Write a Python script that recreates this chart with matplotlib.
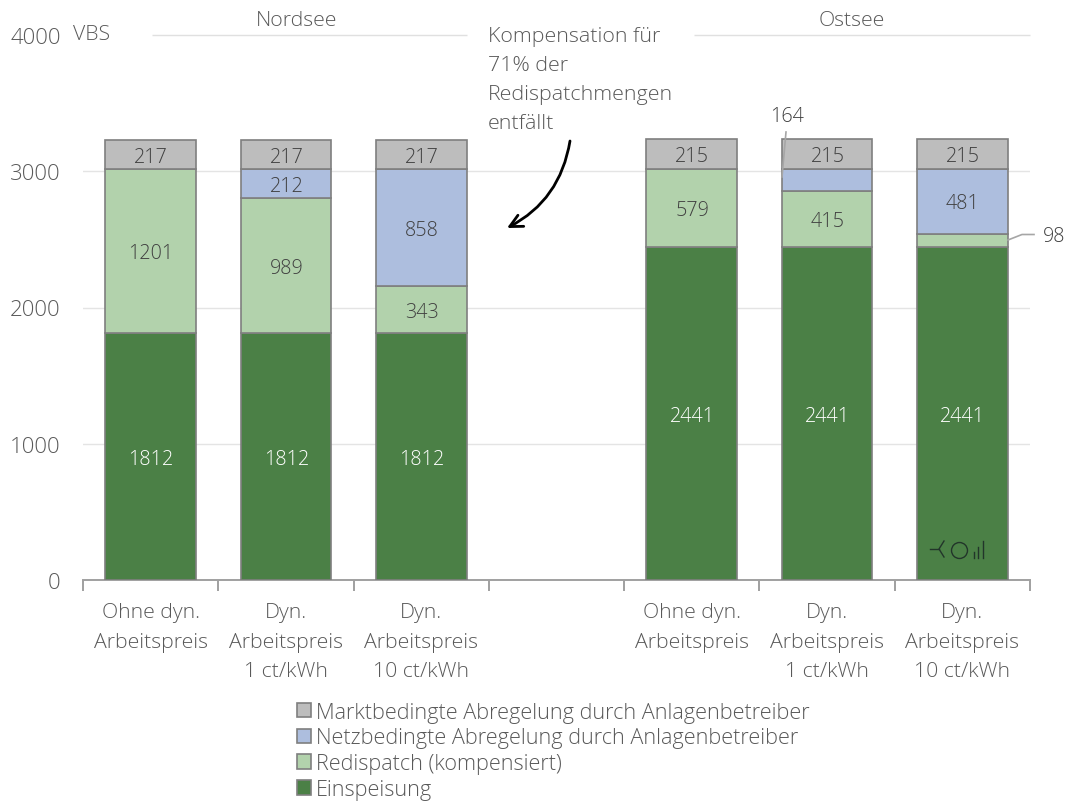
import matplotlib
matplotlib.use("Agg")
import matplotlib.pyplot as plt
from matplotlib.lines import Line2D
from matplotlib.patches import Patch

plt.rcParams['font.family'] = ['Open Sans', 'DejaVu Sans']
plt.rcParams['font.weight'] = 'light'

# Werte je Szenario, die leere Kategorie trennt Nordsee und Ostsee
kategorien = ["Ohne dyn.\nArbeitspreis", "Dyn.\nArbeitspreis\n1 ct/kWh", "Dyn.\nArbeitspreis\n10 ct/kWh", "",
              "Ohne dyn.\nArbeitspreis", "Dyn.\nArbeitspreis\n1 ct/kWh", "Dyn.\nArbeitspreis\n10 ct/kWh"]
einspeisung = [1812, 1812, 1812, 0, 2441, 2441, 2441]
redispatch = [1201, 989, 343, 0, 579, 415, 98]
netzbedingt = [0, 212, 858, 0, 0, 164, 481]
marktbedingt = [217, 217, 217, 0, 215, 215, 215]

namen = ["Einspeisung", "Redispatch (kompensiert)",
         "Netzbedingte Abregelung durch Anlagenbetreiber",
         "Marktbedingte Abregelung durch Anlagenbetreiber"]
farben = ["#4b8046", "#b2d2ac", "#adbede", "#bdbdbd"]
y_ticks = [0, 1000, 2000, 3000, 4000]

GRAU = "#595959"
TEXT_DUNKEL = "#404040"
RAND = "#7f7f7f"

W, H = 1071, 804
fig = plt.figure(figsize=(W / 100, H / 100), dpi=100)
ax = fig.add_axes([83 / W, 1 - 581 / H, (1030 - 83) / W, (581 - 36) / H])


def px(x, y):
    # Pixelposition in Figure-Koordinaten
    return x / W, 1 - y / H


x = list(range(len(kategorien)))
boden = [0] * len(x)
for name, werte, farbe in zip(namen, [einspeisung, redispatch, netzbedingt, marktbedingt], farben):
    for i, w in enumerate(werte):
        if w == 0:
            continue
        ax.bar(i, w, 0.67, bottom=boden[i], color=farbe, edgecolor=RAND, linewidth=1.2, zorder=3)
        # kleine Segmente werden extern beschriftet
        if w in (98, 164):
            continue
        color = "white" if farbe == farben[0] else TEXT_DUNKEL
        ax.annotate(str(w), (i, boden[i] + w / 2), xytext=(0.4, -1.5), textcoords="offset points",
                    ha="center", va="center", fontsize=14.2, color=color, zorder=4)
    boden = [b + w for b, w in zip(boden, werte)]

ax.set_xlim(-0.5, 6.5)
ax.set_ylim(0, 4000)
ax.set_yticks(y_ticks)
ax.set_xticks(x)
ax.set_xticklabels(kategorien, fontsize=15.3, color=GRAU, linespacing=1.62)
ax.set_xticks([i - 0.5 for i in range(8)], minor=True)
ax.tick_params(axis="x", which="major", length=0, pad=16)
ax.tick_params(axis="x", which="minor", length=8, width=1.4, color="#a0a0a0")
ax.tick_params(axis="y", length=0, pad=16, labelsize=16, labelcolor=GRAU)

for s in ["top", "right", "left"]:
    ax.spines[s].set_visible(False)
ax.spines["bottom"].set_color("#a0a0a0")
ax.spines["bottom"].set_linewidth(1.4)

for y in y_ticks[1:-1]:
    ax.axhline(y, color="#e4e4e4", linewidth=1, zorder=1)

# Kopflinien der beiden Regionen auf Hoehe von 4000
ax.hlines(4000, 0.01, 2.34, color="#e0e0e0", linewidth=1, clip_on=False)
ax.hlines(4000, 4.02, 6.5, color="#e0e0e0", linewidth=1, clip_on=False)

fig.text(*px(296.5, 21), "Nordsee", ha="center", va="center", fontsize=15.3, color=GRAU)
fig.text(*px(852, 21), "Ostsee", ha="center", va="center", fontsize=15.3, color=GRAU)
fig.text(*px(73, 35), "VBS", ha="left", va="center", fontsize=15.3, color=GRAU)

fig.text(*px(488, 80.5), "Kompensation für\n71% der\nRedispatchmengen\nentfällt", ha="left", va="center",
         fontsize=15.4, color=GRAU, linespacing=1.6)

# Pfeil vom Hinweistext zu den Balken
ax.annotate("", xy=px(507, 229), xytext=px(570, 142), xycoords="figure fraction",
            textcoords="figure fraction", zorder=5,
            arrowprops=dict(arrowstyle="->,head_length=0.9,head_width=0.45", color="black",
                            linewidth=2, connectionstyle="arc3,rad=-0.25",
                            shrinkA=0, shrinkB=0))

# Fuehrungslinien der externen Beschriftungen
fig.add_artist(Line2D(*zip(px(786, 133), px(782, 178)), color="#a6a6a6", linewidth=1.2, zorder=6))
fig.add_artist(Line2D(*zip(px(1008, 241), px(1022, 235.5), px(1034, 235.5)), color="#a6a6a6",
                      linewidth=1.2, zorder=6))
fig.text(*px(787, 117), "164", ha="center", va="center", fontsize=14.2, color=TEXT_DUNKEL)
fig.text(*px(1054, 237), "98", ha="center", va="center", fontsize=14.2, color=TEXT_DUNKEL)

# Logo unten im letzten Balken
logo = "#22352a"
fig.add_artist(Line2D(*zip(px(930, 550), px(939, 550)), color=logo, linewidth=1, zorder=6))
fig.add_artist(Line2D(*zip(px(944, 542), px(939, 550), px(944, 558)), color=logo, linewidth=1, zorder=6))
fig.add_artist(Line2D([px(958.7, 550.5)[0]], [px(958.7, 550.5)[1]], marker="o", markersize=11.5,
                      markerfacecolor="none", markeredgecolor=logo, markeredgewidth=1, zorder=6))
for bx, top in [(974, 553), (978.3, 548), (982.7, 542)]:
    fig.add_artist(Line2D(*zip(px(bx, top), px(bx, 559)), color=logo, linewidth=1, zorder=6))

griffe = [Patch(facecolor=f, edgecolor=RAND, linewidth=1.2, label=n)
          for f, n in zip(farben[::-1], namen[::-1])]
fig.legend(handles=griffe, loc="upper left", bbox_to_anchor=px(288, 694), frameon=False,
           fontsize=15.6, labelcolor=GRAU, handlelength=0.65, handleheight=0.65, handletextpad=0.23,
           labelspacing=0.22, borderpad=0.4, borderaxespad=0)

fig.savefig("out.png", dpi=100)
